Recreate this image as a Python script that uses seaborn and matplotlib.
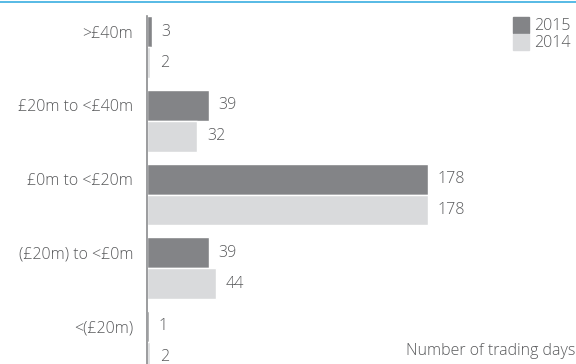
import numpy as np
import pandas as pd
import matplotlib.pyplot as plt
import seaborn as sns
from matplotlib.lines import Line2D

# data
categories = [">£40m", "£20m to <£40m", "£0m to <£20m", "(£20m) to <£0m", "<(£20m)"]
days_2015 = [3, 39, 178, 39, 1]
days_2014 = [2, 32, 178, 44, 2]
years = ["2015", "2014"]
colors = ["#838487", "#d9dadc"]
text_color = "#58595b"

df = pd.DataFrame({
    "band": categories * 2,
    "days": days_2015 + days_2014,
    "year": [years[0]] * len(categories) + [years[1]] * len(categories),
})

sns.set_style("white")
plt.rcParams["font.family"] = ["Open Sans", "DejaVu Sans"]
fs = 11.5

fig = plt.figure(figsize=(5.76, 3.64), dpi=100)
ax = fig.add_axes([147 / 576, 0, 1 - 147 / 576, 1 - 3 / 364])

sns.barplot(data=df, y="band", x="days", hue="year", order=categories,
            hue_order=years, palette=colors, width=0.84, saturation=1,
            orient="h", ax=ax, legend=False)

for container in ax.containers:
    ax.bar_label(container, padding=7, fontsize=fs, color=text_color,
                 fontweight="light")

ax.set_xlim(0, 272)
ax.set_ylim(4.3, -0.6)
ax.set_xlabel("")
ax.set_ylabel("")
ax.set_xticks([])
# labels sit beside the 2015 bar of each band
ax.set_yticks(np.arange(len(categories)) - 0.21, categories)
ax.tick_params(axis="y", length=0, pad=10, labelsize=fs, labelcolor=text_color)
for lbl in ax.get_yticklabels():
    lbl.set_fontweight("light")

for side in ["top", "right", "bottom"]:
    ax.spines[side].set_visible(False)
ax.spines["left"].set_color("#8a8b8d")
ax.spines["left"].set_linewidth(1.2)
ax.spines["left"].set_bounds(-0.42, 4.3)

# legend
handles = [Line2D([0], [0], marker="s", linestyle="", markersize=11,
                  markerfacecolor=c, markeredgecolor=c) for c in colors]
leg = fig.legend(handles, years, loc="upper right", bbox_to_anchor=(1.01, 0.98),
                 frameon=False, fontsize=fs, handletextpad=0.3,
                 labelspacing=0.05, handlelength=1.0, borderpad=0.2)
for t in leg.get_texts():
    t.set_color(text_color)
    t.set_fontweight("light")

fig.text(0.999, 0.015, "Number of trading days", ha="right", va="bottom",
         fontsize=fs, color=text_color, fontweight="light")

# thin blue rule across the top
fig.add_artist(Line2D([0, 1], [1 - 1.5 / 364, 1 - 1.5 / 364],
                      transform=fig.transFigure, color="#3aaee0", linewidth=1.2))

fig.savefig("out.png", dpi=100)
